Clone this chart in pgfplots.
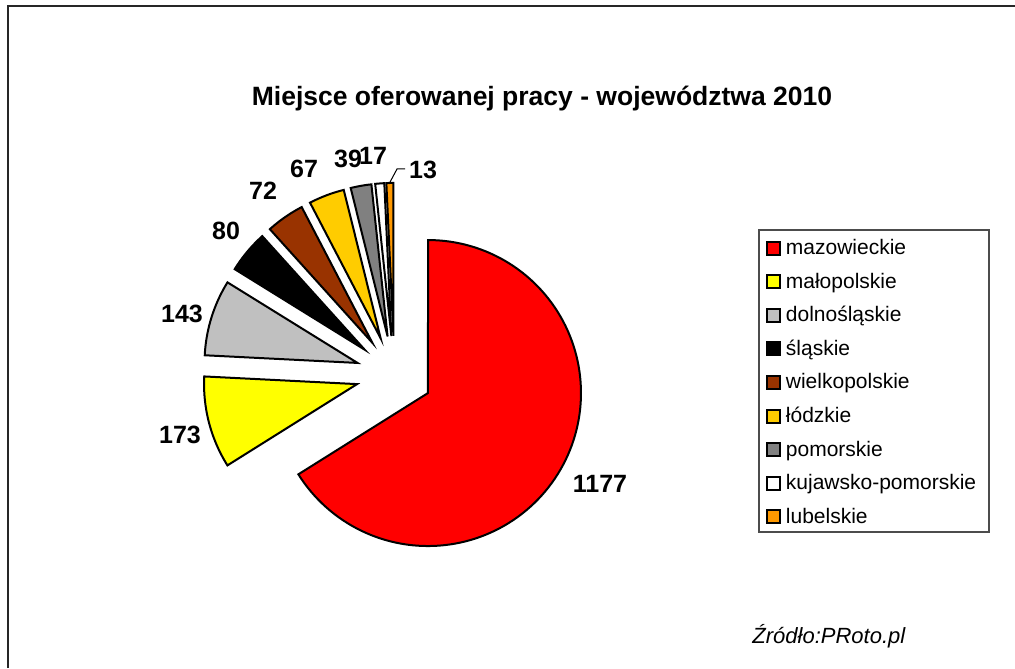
\documentclass[border=0pt]{standalone}
\usepackage{pgfplots}
\pgfplotsset{compat=1.18}
\usepackage{fontspec}
\setmainfont{Liberation Sans}

\definecolor{cred}{HTML}{FF0000}
\definecolor{cyellow}{HTML}{FFFF00}
\definecolor{cbrown}{HTML}{993300}
\definecolor{cgold}{HTML}{FFCC00}
\definecolor{cgray}{HTML}{808080}
\definecolor{clight}{HTML}{C0C0C0}
\definecolor{corange}{HTML}{FF9900}
\definecolor{cblack}{HTML}{000000}
\definecolor{cwhite}{HTML}{FFFFFF}

% pie geometry in pixel units (1 px = 0.5pt), y grows downwards
\def\cx{394.3}\def\cy{374.4}\def\rad{153}\def\expl{38.5}
\def\total{1781}% 1177+173+143+80+72+67+39+17+13

% one exploded slice: value, colour, legend text, row number
\newcommand\slice[4]{%
  \pgfmathsetmacro\angB{\angA-#1/\total*360}%
  \pgfmathsetmacro\angM{(\angA+\angB)/2}%
  \pgfmathsetmacro\apx{\cx+\expl*cos(\angM)}%
  \pgfmathsetmacro\apy{\cy-\expl*sin(\angM)}%
  \edef\doslice{\noexpand\addplot[draw=cblack, line width=1pt, fill=#2,
      line join=miter, domain=\angB:\angA, samples=120]
    ({\apx+\rad*cos(x)}, {\apy-\rad*sin(x)}) -- (axis cs:\apx,\apy) -- cycle;}%
  \doslice
  % legend row
  \pgfmathsetmacro\ly{248+33.6*(#4-1)}%
  \edef\dolegend{\noexpand\draw[cblack, line width=1pt, fill=#2]
      (axis cs:767,\ly-6.5) rectangle (axis cs:780,\ly+6.5);
    \noexpand\node[anchor=base west, inner sep=0pt, font=\noexpand\legfont]
      at (axis cs:785.5,\ly+6.5) {#3};}%
  \dolegend
  \global\let\angA\angB
}
\newcommand\legfont{\fontsize{10.5}{12}\selectfont}
\newcommand\labfont{\fontsize{12.5}{14}\selectfont\bfseries}

\begin{document}
\begin{tikzpicture}
\begin{axis}[
  width=507.5pt, height=334pt, scale only axis,
  xmin=0, xmax=1015, ymin=0, ymax=668, y dir=reverse,
  hide axis, clip=false]

% outer chart frame (only left and top edges are in view)
\draw[black!85, line width=1pt] (axis cs:8,668) -- (axis cs:8,6.5) -- (axis cs:1015,6.5);

% legend frame
\draw[black!70, line width=0.6pt, fill=white] (axis cs:759,230) rectangle (axis cs:989,532);

\def\angA{90}
\slice{1177}{cred}{mazowieckie}{1}
\slice{173}{cyellow}{małopolskie}{2}
\slice{143}{clight}{dolnośląskie}{3}
\slice{80}{cblack}{śląskie}{4}
\slice{72}{cbrown}{wielkopolskie}{5}
\slice{67}{cgold}{łódzkie}{6}
\slice{39}{cgray}{pomorskie}{7}
\slice{17}{cwhite}{kujawsko-pomorskie}{8}
\slice{13}{corange}{lubelskie}{9}

% title
\node[anchor=base, font=\fontsize{13.25}{15}\selectfont\bfseries]
  at (axis cs:542,106) {Miejsce oferowanej pracy - województwa 2010};

% data labels
\node[anchor=base, font=\labfont] at (axis cs:600,492) {1177};
\node[anchor=base, font=\labfont] at (axis cs:180,443) {173};
\node[anchor=base, font=\labfont] at (axis cs:182,322) {143};
\node[anchor=base, font=\labfont] at (axis cs:226,239) {80};
\node[anchor=base, font=\labfont] at (axis cs:263,199) {72};
\node[anchor=base, font=\labfont] at (axis cs:304,177) {67};
\node[anchor=base, font=\labfont] at (axis cs:348,168) {39};
\node[anchor=base, font=\labfont] at (axis cs:373,165) {17};
\node[anchor=base, font=\labfont] at (axis cs:423,178) {13};
\draw[cblack, line width=0.5pt] (axis cs:389,184) -- (axis cs:397,169) -- (axis cs:405,169);

% source
\node[anchor=base west, inner sep=0pt, font=\fontsize{11}{13}\selectfont\itshape]
  at (axis cs:752,643) {Źródło:PRoto.pl};
\end{axis}
\pgfresetboundingbox
\path (current axis.south west) rectangle (current axis.north east);
\end{tikzpicture}
\end{document}
